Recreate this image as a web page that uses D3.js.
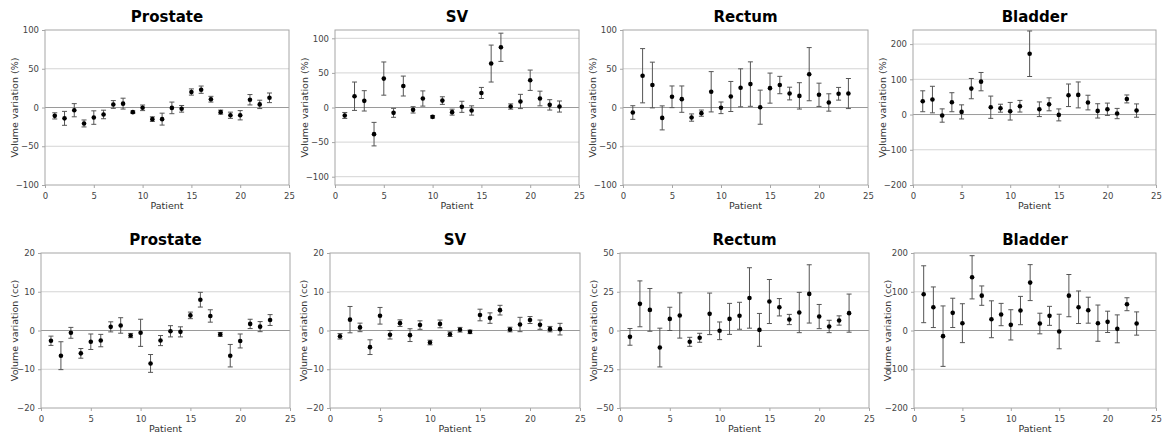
<!DOCTYPE html>
<html>
<head>
<meta charset="utf-8">
<script src="https://cdn.jsdelivr.net/npm/d3@7"></script>
<style>
  body { margin: 0; background: #fff; }
  text { font-family: 'DejaVu Sans', Verdana, sans-serif; }
</style>
</head>
<body>
<div id="chart"></div>
<script>
// patients 1..23
let patients = d3.range(1, 24)

// volume variation (%) — mean and error
let prostatePct = [-10.8, -14, -3.5, -20.6, -13, -9, 3.9, 5, -6, -0.4, -15, -15, -0.5, -1.7, 20, 23, 10.7, -6, -10, -10, 10, 4, 12.5]
let prostatePctErr = [4, 9, 8.5, 4.5, 8.7, 5.5, 5, 7, 1.5, 3.6, 3, 7.7, 7.5, 4.3, 4, 4.7, 3.7, 2.6, 4, 6, 6.7, 5.4, 6.2]
let svPct = [-11.5, 16.3, 9.6, -38.5, 41.8, -7.7, 31, -3.4, 13, -13.5, 10, -6.7, 1, -4.3, 21, 63.5, 87, 1.4, 8.7, 39.4, 13, 3.8, 1.4]
let svPctErr = [4.3, 20.5, 14.7, 17, 24, 6.5, 14.4, 4.6, 11, 1.7, 5.5, 4.3, 8, 6.7, 8, 26.7, 20.4, 3.8, 10.3, 14.7, 10.6, 7.5, 8]
let rectumPct = [-6.5, 41, 29, -13.4, 13.8, 10.8, -13, -7.3, 20.3, -0.4, 14.2, 25.4, 30.2, 0.4, 25, 29, 18, 15, 43, 16.4, 6.5, 17.7, 18]
let rectumPctErr = [8.8, 35, 29.5, 15.5, 14, 17, 4.7, 4, 26, 7.5, 19.4, 24.5, 28.7, 22, 19.4, 11.2, 8.2, 17, 34.3, 15, 11.2, 8.2, 19.4]
let bladderPct = [37.7, 42.5, -2.8, 35, 7.5, 73.6, 93.4, 20.8, 18, 9.4, 23.6, 172.6, 15, 29, -1, 54.7, 55.7, 34, 10.4, 15, 2.8, 44.3, 11.3]
let bladderPctErr = [29.7, 37.7, 18.9, 27, 20, 28.8, 26, 31.6, 11.3, 25, 16.5, 64.6, 20.8, 18.4, 17, 32, 36.8, 20.8, 20.3, 17.5, 14.6, 11.3, 18.9]

// volume variation (cc) — mean and error
let prostateCc = [-2.65, -6.5, -0.6, -5.9, -2.9, -2.6, 0.94, 1.3, -1.3, -0.6, -8.5, -2.6, -0.2, -0.35, 3.9, 7.95, 3.75, -1, -6.5, -2.7, 1.7, 1, 2.7]
let prostateCcErr = [1.2, 3.6, 1.4, 1.25, 2, 1.6, 1.3, 2, 0.55, 3.5, 2.3, 1.3, 1.45, 1.3, 0.85, 1.9, 1.6, 0.5, 2.9, 1.8, 1.2, 1.3, 1.4]
let svCc = [-1.5, 2.8, 0.8, -4.3, 3.8, -1.1, 1.9, -1.2, 1.4, -3.1, 1.7, -0.95, 0.2, -0.35, 4, 3.2, 5.25, 0.25, 1.55, 2.7, 1.5, 0.35, 0.35]
let svCcErr = [0.7, 3.4, 1.1, 1.9, 2.15, 1.1, 0.85, 1.65, 1.1, 0.6, 1, 0.6, 0.6, 0.45, 1.5, 1.35, 1.25, 0.6, 1.85, 0.9, 1.2, 0.7, 1.5]
let rectumCc = [-4.1, 17.2, 13.3, -11, 7.5, 9.7, -7.3, -4.7, 10.75, -0.2, 7.5, 9.5, 21, 0.4, 18.7, 15, 7.1, 11.6, 23.6, 9, 2.6, 6.45, 11.2]
let rectumCcErr = [5.4, 14.8, 13.8, 12.5, 7.5, 14.6, 2.9, 2.9, 13.4, 5.7, 10, 8.7, 19.5, 10.6, 14.2, 5.6, 3.3, 13, 18.8, 7.8, 4, 3, 12.3]
let bladderCc = [93.6, 60, -14.6, 45.5, 18.9, 137.3, 90, 29, 41.2, 14.6, 51.5, 123.6, 18, 37.8, -2.6, 90, 60, 52.4, 18.9, 22.3, 4.3, 67.8, 18]
let bladderCcErr = [73.4, 52.4, 78, 37.8, 50.2, 55.8, 25, 47.6, 28.8, 39, 36.5, 46.4, 26.6, 24.5, 44.6, 54.5, 42, 33.5, 46.8, 27.5, 36, 16.7, 30]

let xTicks = [0, 5, 10, 15, 20, 25]

let panels = [
  { title: 'Prostate', unit: '%', values: prostatePct, errs: prostatePctErr, domain: [-100, 100], ticks: [-100, -50, 0, 50, 100] },
  { title: 'SV', unit: '%', values: svPct, errs: svPctErr, domain: [-112, 112], ticks: [-100, -50, 0, 50, 100] },
  { title: 'Rectum', unit: '%', values: rectumPct, errs: rectumPctErr, domain: [-100, 100], ticks: [-100, -50, 0, 50, 100] },
  { title: 'Bladder', unit: '%', values: bladderPct, errs: bladderPctErr, domain: [-200, 240], ticks: [-200, -100, 0, 100, 200] },
  { title: 'Prostate', unit: 'cc', values: prostateCc, errs: prostateCcErr, domain: [-20, 20], ticks: [-20, -10, 0, 10, 20] },
  { title: 'SV', unit: 'cc', values: svCc, errs: svCcErr, domain: [-20, 20], ticks: [-20, -10, 0, 10, 20] },
  { title: 'Rectum', unit: 'cc', values: rectumCc, errs: rectumCcErr, domain: [-50, 50], ticks: [-50, -25, 0, 25, 50] },
  { title: 'Bladder', unit: 'cc', values: bladderCc, errs: bladderCcErr, domain: [-200, 200], ticks: [-200, -100, 0, 100, 200] }
]

// plot boxes (left, top, width, height) for each panel
let boxes = [
  { left: 45, top: 30, width: 244, height: 155 },
  { left: 335, top: 30, width: 244, height: 155 },
  { left: 623, top: 30, width: 245, height: 155 },
  { left: 913, top: 30, width: 243, height: 155 },
  { left: 41, top: 253, width: 249, height: 155 },
  { left: 330, top: 253, width: 250, height: 155 },
  { left: 620, top: 253, width: 249, height: 155 },
  { left: 914, top: 253, width: 242, height: 155 }
]

let svg = d3
  .select('#chart')
  .append('svg')
  .attr('width', 1162)
  .attr('height', 435)

panels.forEach((p, i) => {
  let b = boxes[i]
  let g = svg
    .append('g')
    .attr('transform', 'translate(' + b.left + ',' + b.top + ')')

  let xPositionScale = d3.scaleLinear().domain([0, 25]).range([0, b.width])
  let yPositionScale = d3.scaleLinear().domain(p.domain).range([b.height, 0])

  // gridlines
  g.selectAll('.grid')
    .data(p.ticks.filter(t => t !== p.domain[0] && t !== p.domain[1]))
    .enter()
    .append('line')
    .attr('x1', 0)
    .attr('x2', b.width)
    .attr('y1', d => yPositionScale(d))
    .attr('y2', d => yPositionScale(d))
    .attr('stroke', d => (d === 0 ? '#9a9a9a' : '#d4d4d4'))
    .attr('stroke-width', 1)

  // frame
  g.append('rect')
    .attr('width', b.width)
    .attr('height', b.height)
    .attr('fill', 'none')
    .attr('stroke', '#a6a6a6')

  let xAxis = d3.axisBottom(xPositionScale).tickValues(xTicks).tickSize(3).tickSizeOuter(0)
  g.append('g')
    .attr('class', 'axis x-axis')
    .attr('transform', 'translate(0,' + b.height + ')')
    .call(xAxis)

  let yAxis = d3.axisLeft(yPositionScale).tickValues(p.ticks).tickSize(3).tickSizeOuter(0)
  g.append('g')
    .attr('class', 'axis y-axis')
    .call(yAxis)

  g.selectAll('.axis .domain').remove()
  g.selectAll('.axis line').attr('stroke', '#a6a6a6')
  g.selectAll('.axis text')
    .attr('font-size', 8.5)
    .attr('fill', '#444')
  g.selectAll('.x-axis text').attr('dy', '0.9em')

  // error bars
  let bars = g
    .selectAll('.err')
    .data(patients)
    .enter()
    .append('g')
    .attr('class', 'err')
  bars
    .append('line')
    .attr('x1', d => xPositionScale(d))
    .attr('x2', d => xPositionScale(d))
    .attr('y1', (d, j) => yPositionScale(p.values[j] + p.errs[j]))
    .attr('y2', (d, j) => yPositionScale(p.values[j] - p.errs[j]))
    .attr('stroke', '#555')
    .attr('stroke-width', 1)
  bars
    .append('line')
    .attr('x1', d => xPositionScale(d) - 2.5)
    .attr('x2', d => xPositionScale(d) + 2.5)
    .attr('y1', (d, j) => yPositionScale(p.values[j] + p.errs[j]))
    .attr('y2', (d, j) => yPositionScale(p.values[j] + p.errs[j]))
    .attr('stroke', '#555')
  bars
    .append('line')
    .attr('x1', d => xPositionScale(d) - 2.5)
    .attr('x2', d => xPositionScale(d) + 2.5)
    .attr('y1', (d, j) => yPositionScale(p.values[j] - p.errs[j]))
    .attr('y2', (d, j) => yPositionScale(p.values[j] - p.errs[j]))
    .attr('stroke', '#555')

  // points
  g.selectAll('.dot')
    .data(patients)
    .enter()
    .append('circle')
    .attr('class', 'dot')
    .attr('cx', d => xPositionScale(d))
    .attr('cy', (d, j) => yPositionScale(p.values[j]))
    .attr('r', 2.3)
    .attr('fill', '#000')

  // title
  g.append('text')
    .attr('x', b.width / 2)
    .attr('y', -8)
    .attr('text-anchor', 'middle')
    .attr('font-size', 15)
    .attr('font-weight', 'bold')
    .attr('fill', '#000')
    .text(p.title)

  // x label
  g.append('text')
    .attr('x', b.width / 2)
    .attr('y', b.height + 24)
    .attr('text-anchor', 'middle')
    .attr('font-size', 9.5)
    .attr('fill', '#333')
    .text('Patient')

  // y label
  g.append('text')
    .attr('transform', 'translate(' + (i < 4 ? -27 : -23) + ',' + b.height / 2 + ') rotate(-90)')
    .attr('text-anchor', 'middle')
    .attr('font-size', 9.5)
    .attr('fill', '#333')
    .text('Volume variation (' + p.unit + ')')
})
</script>
</body>
</html>
